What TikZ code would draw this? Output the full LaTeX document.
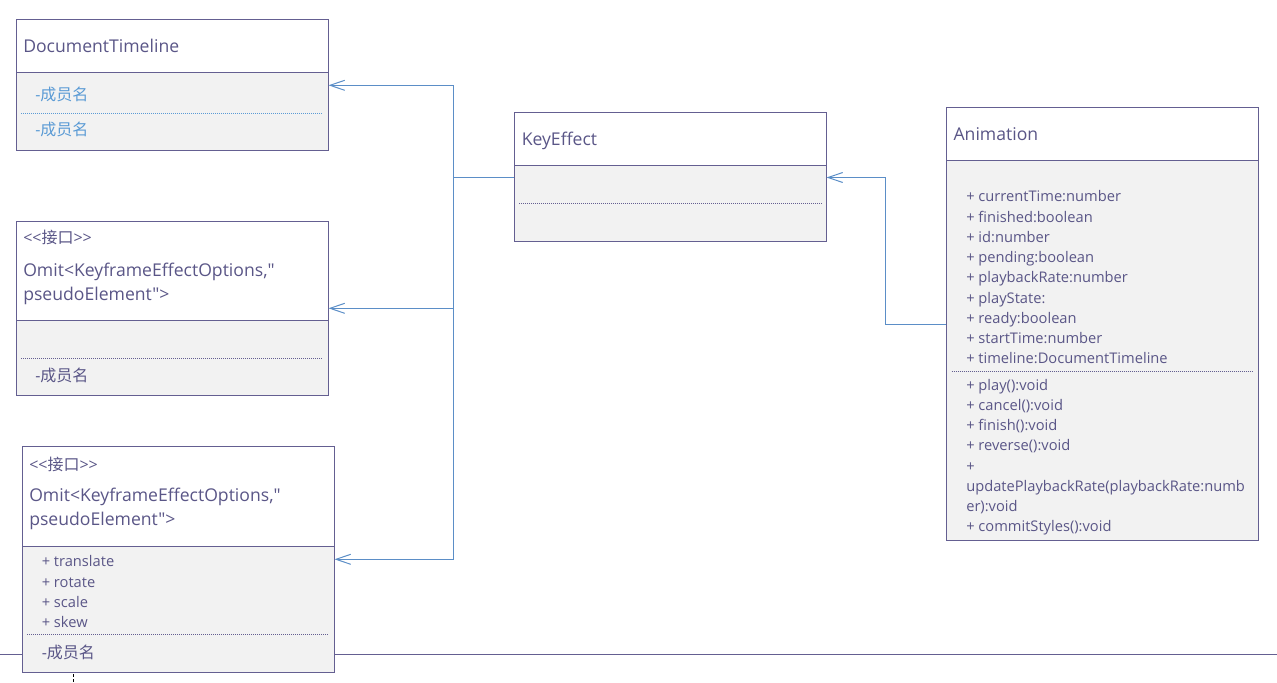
\documentclass[tikz,border=0pt]{standalone}
\usepackage{fontspec}
\setmainfont{Open Sans}[Ligatures=TeXOff]
\newfontfamily\cjk{Noto Sans CJK SC}
\usetikzlibrary{arrows.meta,fit}

\definecolor{umlline}{RGB}{100,95,145}
\definecolor{umltext}{RGB}{90,86,135}
\definecolor{umlfill}{RGB}{242,242,242}
\definecolor{memblue}{RGB}{91,155,213}
\definecolor{linkblue}{RGB}{91,142,199}

\tikzset{
  classhead/.style={draw=umlline, line width=0.75pt, fill=white, inner sep=0pt},
  classbody/.style={draw=umlline, line width=0.75pt, fill=umlfill, inner sep=0pt},
  sepline/.style={draw=umlline, line width=0.6pt, dash pattern=on 0.75pt off 0.75pt},
  titletext/.style={text=umltext, inner sep=0pt, align=left, font=\fontsize{13.2}{18}\selectfont},
  itemtext/.style={text=umltext, inner sep=0pt, align=left, font=\fontsize{11}{15.18}\selectfont},
  membertext/.style={text=umltext, inner sep=0pt, font=\fontsize{12}{15}\selectfont},
  link/.style={draw=linkblue, line width=0.75pt},
  inherit/.style={link, -{Straight Barb[length=11pt,width=7.5pt]}}
}

\begin{document}
\begin{tikzpicture}[x=0.75pt, y=-0.75pt]

    \useasboundingbox (0,0) rectangle (1277,682);

    % Page break line at the bottom
    \draw[umlline, line width=0.75pt] (0,654) -- (1277,654);
    \draw[black, line width=0.75pt, dash pattern=on 2.25pt off 1.5pt] (73.3,674) -- (73.3,682);

    % DocumentTimeline
    \node[classhead, fit={(16,19) (328,72)}] (dtHead) {};
    \node[classbody, fit={(16,72) (328,150)}] (dtBody) {};
    \node[titletext, anchor=base west] (dtTitle) at (23,52) {DocumentTimeline};
    \node[membertext, text=memblue, anchor=base west] (dtMemA) at (35,100.5) {-{\cjk 成员名}};
    \draw[sepline, draw=memblue] (21,113.3) -- (323,113.3);
    \node[membertext, text=memblue, anchor=base west] (dtMemB) at (35,135.5) {-{\cjk 成员名}};

    % First interface: Omit<KeyframeEffectOptions,"pseudoElement">
    \node[classhead, fit={(16,221) (328,320)}] (ifaHead) {};
    \node[classbody, fit={(16,320) (328,395)}] (ifaBody) {};
    \node[membertext, anchor=base west] (ifaStereo) at (23,243.5) {<<{\cjk 接口}>>};
    \node[titletext, anchor=north west] (ifaName) at (23,259.9)
        {\strut Omit<KeyframeEffectOptions,"\\pseudoElement">};
    \draw[sepline] (21,358) -- (323,358);
    \node[membertext, anchor=base west] (ifaMem) at (35,381) {-{\cjk 成员名}};

    % Second interface: Omit<KeyframeEffectOptions,"pseudoElement">
    \node[classhead, fit={(22,446) (334,546)}] (ifbHead) {};
    \node[classbody, fit={(22,546) (334,672)}] (ifbBody) {};
    \node[membertext, anchor=base west] (ifbStereo) at (29,470) {<<{\cjk 接口}>>};
    \node[titletext, anchor=north west] (ifbName) at (29,484.9)
        {\strut Omit<KeyframeEffectOptions,"\\pseudoElement">};
    \node[itemtext, anchor=north west] (ifbAttr) at (41.5,552.5)
        {\strut + translate\\+ rotate\\+ scale\\+ skew};
    \draw[sepline] (27.3,634) -- (329.3,634);
    \node[membertext, anchor=base west] (ifbMem) at (41.5,658) {-{\cjk 成员名}};

    % KeyEffect
    \node[classhead, fit={(514,112) (826,165.5)}] (keHead) {};
    \node[classbody, fit={(514,165.5) (826,241)}] (keBody) {};
    \node[titletext, anchor=base west] (keTitle) at (521.5,145.7) {KeyEffect};
    \draw[sepline] (519,203.3) -- (821.7,203.3);

    % Animation
    \node[classhead, fit={(946,107.3) (1258.3,160.7)}] (anHead) {};
    \node[classbody, fit={(946,160.7) (1258.3,540.7)}] (anBody) {};
    \node[titletext, anchor=base west] (anTitle) at (953.3,140) {Animation};
    \node[itemtext, anchor=north west] (anAttr) at (966,187.5)
        {\strut + currentTime:number\\+ finished:boolean\\+ id:number\\+ pending:boolean\\
         + playbackRate:number\\+ playState:\\+ ready:boolean\\+ startTime:number\\
         + timeline:DocumentTimeline};
    \draw[sepline] (951.7,371.3) -- (1253.3,371.3);
    \node[itemtext, anchor=north west] (anOps) at (966,375.8)
        {\strut + play():void\\+ cancel():void\\+ finish():void\\+ reverse():void\\+\\
         updatePlaybackRate(playbackRate:numb\\er):void\\+ commitStyles():void};

    % Connectors
    \coordinate (jTop) at (453.5,85.3);
    \coordinate (jKey) at (453.5,177.5);
    \coordinate (jMid) at (453.5,308.3);
    \coordinate (jBot) at (453.5,559.3);
    \coordinate (jAnim) at (885.7,324.5);

    \draw[link] (jTop) -- (jBot);
    \draw[link] (jKey -| keBody.west) -- (jKey);
    \draw[inherit] (jTop) -- (jTop -| dtBody.east);
    \draw[inherit] (jMid) -- (jMid -| ifaHead.east);
    \draw[inherit] (jBot) -- (jBot -| ifbBody.east);
    \draw[inherit] (jAnim -| anBody.west) -- (jAnim) |- (jKey -| keBody.east);

\end{tikzpicture}
\end{document}
